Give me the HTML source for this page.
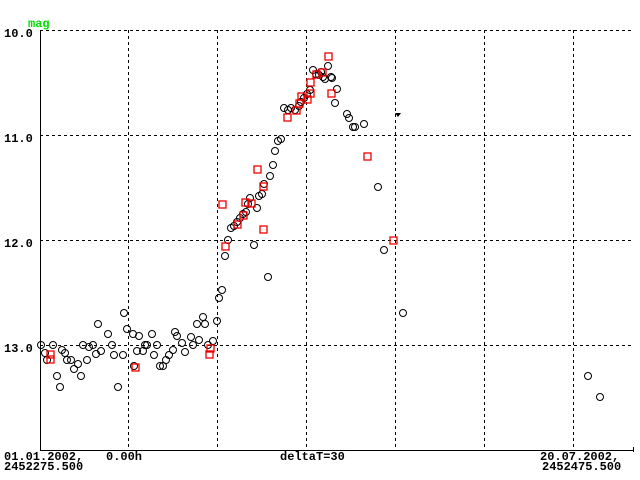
<!DOCTYPE html>
<html><head><meta charset="utf-8"><style>
body{margin:0;background:#fff}
svg{display:block}
text{font-family:"Liberation Mono",monospace;font-weight:bold;font-size:12px}
</style></head><body>
<svg width="640" height="480" xmlns="http://www.w3.org/2000/svg">
<g stroke="#000" stroke-width="1" stroke-dasharray="3,3" shape-rendering="crispEdges">
<line x1="40" y1="30.5" x2="632" y2="30.5"/>
<line x1="40" y1="135.5" x2="632" y2="135.5"/>
<line x1="40" y1="240.5" x2="632" y2="240.5"/>
<line x1="40" y1="345.5" x2="632" y2="345.5"/>
<line x1="128.5" y1="30" x2="128.5" y2="450"/>
<line x1="217.5" y1="30" x2="217.5" y2="450"/>
<line x1="306.5" y1="30" x2="306.5" y2="450"/>
<line x1="395.5" y1="30" x2="395.5" y2="450"/>
<line x1="484.5" y1="30" x2="484.5" y2="450"/>
<line x1="573.5" y1="30" x2="573.5" y2="450"/>
</g>
<g stroke="#000" stroke-width="1" shape-rendering="crispEdges">
<line x1="40.5" y1="30" x2="40.5" y2="451"/>
<line x1="40" y1="450.5" x2="634" y2="450.5"/>
<line x1="633.5" y1="447" x2="633.5" y2="452"/>
</g>
<text x="28" y="27" fill="#00dd00" font-size="11">mag</text>
<text x="4" y="37">10.0</text>
<text x="4" y="142">11.0</text>
<text x="4" y="247">12.0</text>
<text x="4" y="352">13.0</text>
<text x="4" y="460">01.01.2002,</text>
<text x="106" y="460">0.00h</text>
<text x="4" y="470">2452275.500</text>
<text x="280" y="460">deltaT=30</text>
<text x="540" y="460">20.07.2002,</text>
<text x="542" y="470">2452475.500</text>
<g fill="none" stroke="#000" stroke-width="1">
<circle cx="41" cy="345" r="3.5"/><circle cx="45" cy="353" r="3.5"/><circle cx="53" cy="345" r="3.5"/><circle cx="47" cy="360" r="3.5"/><circle cx="57" cy="376" r="3.5"/><circle cx="60" cy="387" r="3.5"/><circle cx="62" cy="350" r="3.5"/><circle cx="65" cy="353" r="3.5"/><circle cx="67" cy="360" r="3.5"/><circle cx="71" cy="360" r="3.5"/><circle cx="74" cy="369" r="3.5"/><circle cx="78" cy="364" r="3.5"/><circle cx="81" cy="376" r="3.5"/><circle cx="83" cy="345" r="3.5"/><circle cx="87" cy="360" r="3.5"/><circle cx="89" cy="347" r="3.5"/><circle cx="93" cy="345" r="3.5"/><circle cx="96" cy="354" r="3.5"/><circle cx="98" cy="324" r="3.5"/><circle cx="101" cy="351" r="3.5"/><circle cx="108" cy="334" r="3.5"/><circle cx="112" cy="345" r="3.5"/><circle cx="114" cy="355" r="3.5"/><circle cx="118" cy="387" r="3.5"/><circle cx="123" cy="355" r="3.5"/><circle cx="124" cy="313" r="3.5"/><circle cx="127" cy="329" r="3.5"/><circle cx="133" cy="334" r="3.5"/><circle cx="134" cy="366" r="3.5"/><circle cx="137" cy="351" r="3.5"/><circle cx="139" cy="336" r="3.5"/><circle cx="143" cy="351" r="3.5"/><circle cx="145" cy="345" r="3.5"/><circle cx="147" cy="345" r="3.5"/><circle cx="152" cy="334" r="3.5"/><circle cx="154" cy="355" r="3.5"/><circle cx="157" cy="345" r="3.5"/><circle cx="160" cy="366" r="3.5"/><circle cx="163" cy="366" r="3.5"/><circle cx="166" cy="360" r="3.5"/><circle cx="169" cy="355" r="3.5"/><circle cx="173" cy="350" r="3.5"/><circle cx="175" cy="332" r="3.5"/><circle cx="177" cy="336" r="3.5"/><circle cx="182" cy="343" r="3.5"/><circle cx="185" cy="352" r="3.5"/><circle cx="191" cy="337" r="3.5"/><circle cx="193" cy="345" r="3.5"/><circle cx="197" cy="324" r="3.5"/><circle cx="199" cy="340" r="3.5"/><circle cx="203" cy="317" r="3.5"/><circle cx="205" cy="324" r="3.5"/><circle cx="208" cy="345" r="3.5"/><circle cx="213" cy="341" r="3.5"/><circle cx="217" cy="321" r="3.5"/><circle cx="219" cy="298" r="3.5"/>
<circle cx="222" cy="290" r="3.5"/><circle cx="225" cy="256" r="3.5"/><circle cx="228" cy="240" r="3.5"/><circle cx="231" cy="228" r="3.5"/><circle cx="234" cy="226" r="3.5"/><circle cx="237" cy="222" r="3.5"/><circle cx="240" cy="218" r="3.5"/><circle cx="243" cy="214" r="3.5"/><circle cx="246" cy="212" r="3.5"/><circle cx="248" cy="204" r="3.5"/><circle cx="250" cy="198" r="3.5"/><circle cx="254" cy="245" r="3.5"/><circle cx="257" cy="208" r="3.5"/><circle cx="259" cy="196" r="3.5"/><circle cx="262" cy="194" r="3.5"/><circle cx="264" cy="184" r="3.5"/><circle cx="268" cy="277" r="3.5"/><circle cx="270" cy="176" r="3.5"/><circle cx="273" cy="165" r="3.5"/><circle cx="275" cy="151" r="3.5"/><circle cx="278" cy="141" r="3.5"/><circle cx="281" cy="139" r="3.5"/><circle cx="284" cy="108" r="3.5"/><circle cx="288" cy="110" r="3.5"/><circle cx="291" cy="108" r="3.5"/><circle cx="295" cy="110" r="3.5"/><circle cx="299" cy="106" r="3.5"/><circle cx="301" cy="102" r="3.5"/><circle cx="304" cy="98" r="3.5"/><circle cx="307" cy="94" r="3.5"/><circle cx="310" cy="90" r="3.5"/><circle cx="313" cy="70" r="3.5"/><circle cx="316" cy="74" r="3.5"/><circle cx="319" cy="75" r="3.5"/><circle cx="321" cy="72" r="3.5"/><circle cx="323" cy="77" r="3.5"/><circle cx="325" cy="79" r="3.5"/><circle cx="328" cy="66" r="3.5"/><circle cx="331" cy="77" r="3.5"/><circle cx="332" cy="78" r="3.5"/><circle cx="337" cy="89" r="3.5"/><circle cx="335" cy="103" r="3.5"/><circle cx="347" cy="114" r="3.5"/><circle cx="349" cy="118" r="3.5"/><circle cx="353" cy="127" r="3.5"/><circle cx="355" cy="127" r="3.5"/><circle cx="364" cy="124" r="3.5"/><circle cx="378" cy="187" r="3.5"/><circle cx="384" cy="250" r="3.5"/><circle cx="403" cy="313" r="3.5"/><circle cx="588" cy="376" r="3.5"/><circle cx="600" cy="397" r="3.5"/>
</g>
<path d="M395 113 L401 113 L398 117 Z" fill="#000"/>
<g fill="none" stroke="#ee0000" stroke-width="1.3">
<rect x="47" y="351" width="7" height="7"/><rect x="47" y="356" width="7" height="7"/><rect x="132" y="364" width="7" height="7"/><rect x="207" y="345" width="7" height="7"/><rect x="206" y="351" width="7" height="7"/>
<rect x="325" y="53" width="7" height="7"/><rect x="319" y="69" width="7" height="7"/><rect x="313" y="71" width="7" height="7"/><rect x="307" y="79" width="7" height="7"/><rect x="307" y="90" width="7" height="7"/><rect x="328" y="90" width="7" height="7"/><rect x="298" y="93" width="7" height="7"/><rect x="304" y="96" width="7" height="7"/><rect x="296" y="100" width="7" height="7"/><rect x="293" y="107" width="7" height="7"/><rect x="284" y="114" width="7" height="7"/><rect x="364" y="153" width="7" height="7"/><rect x="254" y="166" width="7" height="7"/><rect x="260" y="183" width="7" height="7"/><rect x="219" y="201" width="7" height="7"/><rect x="242" y="199" width="7" height="7"/><rect x="248" y="200" width="7" height="7"/><rect x="240" y="212" width="7" height="7"/><rect x="234" y="221" width="7" height="7"/><rect x="260" y="226" width="7" height="7"/><rect x="222" y="243" width="7" height="7"/><rect x="390" y="237" width="7" height="7"/>
</g>
</svg>
</body></html>
